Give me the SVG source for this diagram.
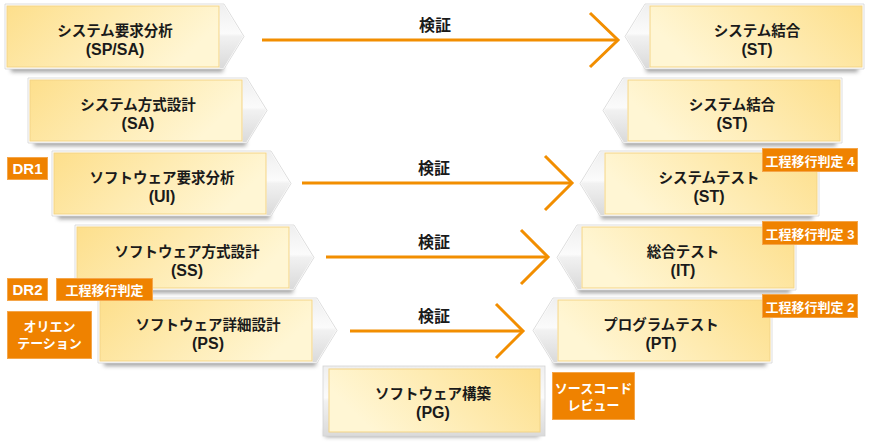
<svg xmlns="http://www.w3.org/2000/svg" width="870" height="442" viewBox="0 0 870 442">
<style>
.t{font-family:"Liberation Sans","Noto Sans CJK JP",sans-serif;font-weight:bold;font-size:14.5px;fill:#1a1a1a;text-anchor:middle}
.t2{font-family:"Liberation Sans","Noto Sans CJK JP",sans-serif;font-weight:bold;font-size:16px;fill:#1a1a1a;text-anchor:middle}
.lbl{font-family:"Liberation Sans","Noto Sans CJK JP",sans-serif;font-weight:bold;font-size:16px;fill:#1a1a1a;text-anchor:middle}
.b{font-family:"Liberation Sans","Noto Sans CJK JP",sans-serif;font-weight:bold;font-size:13px;fill:#fff;text-anchor:middle}
.bd{font-family:"Liberation Sans","Noto Sans CJK JP",sans-serif;font-weight:bold;font-size:15px;fill:#fff;text-anchor:middle}
.badge{fill:#ef8200;stroke:#f5a64a;stroke-width:1}
.arr{stroke:#f28e00;stroke-width:3;fill:none}
.frame{fill:#fff;stroke:#d4d4d4;stroke-width:0.8}
.shadow{fill:#555;opacity:0.55}
</style>
<defs>
<linearGradient id="yelL" x1="0" y1="0" x2="1" y2="0.3">
<stop offset="0" stop-color="#fddf8c"/><stop offset="1" stop-color="#fff6d4"/>
</linearGradient>
<linearGradient id="yelR" x1="0" y1="0.3" x2="1" y2="0">
<stop offset="0" stop-color="#fff6d4"/><stop offset="1" stop-color="#fddf8c"/>
</linearGradient>
<linearGradient id="chev" x1="0" y1="0" x2="0" y2="1">
<stop offset="0" stop-color="#efefef"/><stop offset="0.45" stop-color="#fbfbfb"/><stop offset="0.5" stop-color="#f1f1f1"/><stop offset="1" stop-color="#dadada"/>
</linearGradient>
<filter id="blur" x="-10%" y="-150%" width="120%" height="400%"><feGaussianBlur stdDeviation="2.2"/></filter>
<g id="shapeL">
<rect class="shadow" x="4" y="58" width="212" height="8" filter="url(#blur)"/>
<path class="frame" d="M-2,-2 H217 L237,30.5 L217,63 H-2 Z"/>
<path d="M212.5,-1 H216.5 L236,30.5 L216.5,62 H212.5 Z" fill="url(#chev)"/>
<rect x="0" y="0" width="212" height="61" fill="url(#yelL)" stroke="#f3d486" stroke-width="1"/>
</g>
<g id="shapeR">
<rect class="shadow" x="-4" y="58" width="212" height="8" filter="url(#blur)"/>
<path class="frame" d="M214,-2 H-5 L-25,30.5 L-5,63 H214 Z"/>
<path d="M-0.5,-1 H-4.5 L-24,30.5 L-4.5,62 H-0.5 Z" fill="url(#chev)"/>
<rect x="0" y="0" width="212" height="61" fill="url(#yelR)" stroke="#f3d486" stroke-width="1"/>
</g>
</defs>

<g id="connectors">
<line class="arr" x1="262" y1="40" x2="617" y2="40"/>
<polyline class="arr" points="590,13 618,40 590,67"/>
<text class="lbl" x="435" y="31">検証</text>
<line class="arr" x1="302" y1="183" x2="571" y2="183"/>
<polyline class="arr" points="545,156 572,183 545,210"/>
<text class="lbl" x="434" y="174">検証</text>
<line class="arr" x1="326" y1="257" x2="547" y2="257"/>
<polyline class="arr" points="521,230 548,257 521,284"/>
<text class="lbl" x="434" y="248">検証</text>
<line class="arr" x1="350" y1="331" x2="522" y2="331"/>
<polyline class="arr" points="496,304 523,331 496,358"/>
<text class="lbl" x="434" y="322">検証</text>
</g>

<g id="n-sp" transform="translate(7,6)">
<use href="#shapeL"/>
<text class="t" x="108" y="30">システム要求分析</text>
<text class="t2" x="108" y="49">(SP/SA)</text>
</g>
<g id="n-sa" transform="translate(30,80)">
<use href="#shapeL"/>
<text class="t" x="108" y="30">システム方式設計</text>
<text class="t2" x="108" y="49">(SA)</text>
</g>
<g id="n-ui" transform="translate(54,153)">
<use href="#shapeL"/>
<text class="t" x="108" y="30">ソフトウェア要求分析</text>
<text class="t2" x="108" y="49">(UI)</text>
</g>
<g id="n-ss" transform="translate(77,227)">
<use href="#shapeL"/>
<text class="t" x="110" y="30">ソフトウェア方式設計</text>
<text class="t2" x="110" y="49">(SS)</text>
</g>
<g id="n-ps" transform="translate(100,300)">
<use href="#shapeL"/>
<text class="t" x="108" y="30">ソフトウェア詳細設計</text>
<text class="t2" x="108" y="49">(PS)</text>
</g>

<g id="n-pg" transform="translate(329,369)">
<rect class="shadow" x="-4" y="60" width="214" height="8" filter="url(#blur)"/>
<rect x="-6" y="-3" width="222" height="70" fill="url(#chev)" stroke="#d4d4d4" stroke-width="0.8"/>
<rect x="0" y="0" width="211" height="63" fill="url(#yelR)" stroke="#f3d486" stroke-width="1"/>
<text class="t" x="104" y="30">ソフトウェア構築</text>
<text class="t2" x="104" y="49">(PG)</text>
</g>

<g id="n-st1" transform="translate(650,6)">
<use href="#shapeR"/>
<text class="t" x="107" y="30">システム結合</text>
<text class="t2" x="107" y="49">(ST)</text>
</g>
<g id="n-st2" transform="translate(628,80)">
<use href="#shapeR"/>
<text class="t" x="104" y="30">システム結合</text>
<text class="t2" x="104" y="49">(ST)</text>
</g>
<g id="n-st3" transform="translate(605,153)">
<use href="#shapeR"/>
<text class="t" x="104" y="30">システムテスト</text>
<text class="t2" x="104" y="49">(ST)</text>
</g>
<g id="n-it" transform="translate(582,227)">
<use href="#shapeR"/>
<text class="t" x="101" y="30">総合テスト</text>
<text class="t2" x="101" y="49">(IT)</text>
</g>
<g id="n-pt" transform="translate(558,300)">
<use href="#shapeR"/>
<text class="t" x="103" y="30">プログラムテスト</text>
<text class="t2" x="103" y="49">(PT)</text>
</g>

<g id="b-dr1">
<rect class="badge" x="7.5" y="157.5" width="40" height="22"/>
<text class="bd" x="27.5" y="174">DR1</text>
</g>
<g id="b-dr2">
<rect class="badge" x="7.5" y="278.5" width="40" height="22"/>
<text class="bd" x="27.5" y="295">DR2</text>
</g>
<g id="b-kt">
<rect class="badge" x="56.5" y="278.5" width="96" height="22"/>
<text class="b" x="104.5" y="294.5">工程移行判定</text>
</g>
<g id="b-ori">
<rect class="badge" x="7.5" y="311.5" width="84" height="47"/>
<text class="b" x="49.5" y="330.5">オリエン</text>
<text class="b" x="49.5" y="348">テーション</text>
</g>
<g id="b-kt4">
<rect class="badge" x="762.5" y="148.5" width="95" height="23"/>
<text class="b" x="810" y="165.5">工程移行判定 4</text>
</g>
<g id="b-kt3">
<rect class="badge" x="762.5" y="221.5" width="95" height="23"/>
<text class="b" x="810" y="238.5">工程移行判定 3</text>
</g>
<g id="b-kt2">
<rect class="badge" x="762.5" y="294.5" width="95" height="23"/>
<text class="b" x="810" y="311.5">工程移行判定 2</text>
</g>
<g id="b-src">
<rect class="badge" x="552.5" y="372.5" width="82" height="47"/>
<text class="b" x="593.5" y="392.5">ソースコード</text>
<text class="b" x="593.5" y="410">レビュー</text>
</g>
</svg>
